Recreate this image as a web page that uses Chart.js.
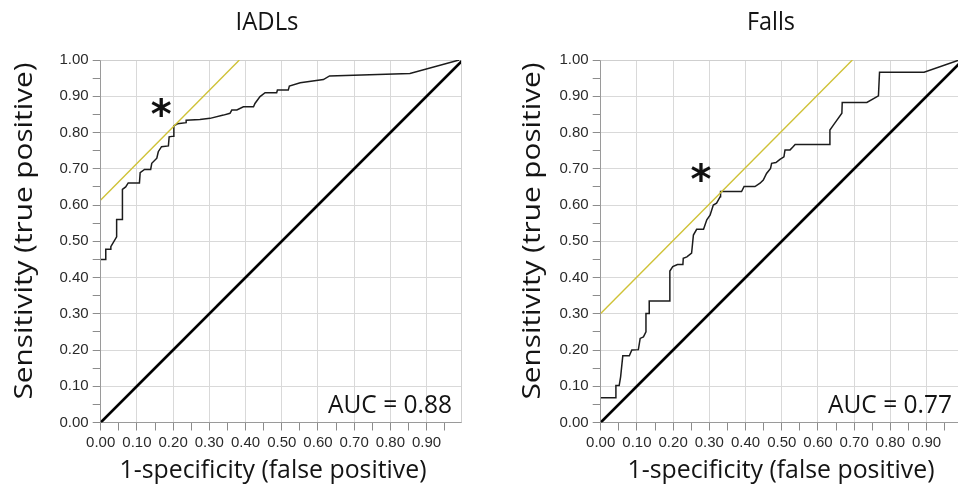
<!DOCTYPE html>
<html><head><meta charset="utf-8">
<script src="https://cdn.jsdelivr.net/npm/chart.js@4/dist/chart.umd.min.js"></script>
<style>
html,body{margin:0;padding:0;background:#fff;overflow:hidden;}
#wrap{position:relative;width:958px;height:489px;overflow:hidden;background:#fff;}
canvas{position:absolute;top:0;}
#c1{left:0;}
#c2{left:500px;}
</style></head><body>
<div id="wrap">
<canvas id="c1" width="480" height="489" style="width:480px;height:489px"></canvas>
<canvas id="c2" width="480" height="489" style="width:480px;height:489px"></canvas>
</div>
<script>
// ---- data ----
const tickLabels = ['0.00','0.10','0.20','0.30','0.40','0.50','0.60','0.70','0.80','0.90','1.00'];
const panelTitles = ['IADLs', 'Falls'];
const xTitle = '1-specificity (false positive)';
const yTitle = 'Sensitivity (true positive)';
const aucLabels = ['AUC = 0.88', 'AUC = 0.77'];

const iadlFpr = [0,0.014,0.014,0.028,0.028,0.044,0.044,0.060,0.060,0.069,0.076,0.107,0.109,0.121,0.138,0.141,0.155,0.159,0.168,0.187,0.189,0.201,0.202,0.212,0.236,0.236,0.274,0.302,0.339,0.357,0.362,0.376,0.394,0.422,0.426,0.440,0.454,0.486,0.488,0.518,0.521,0.551,0.615,0.632,0.854,0.990];
const iadlTpr = [0.450,0.450,0.478,0.478,0.485,0.512,0.560,0.560,0.643,0.650,0.661,0.661,0.689,0.698,0.698,0.715,0.729,0.747,0.761,0.763,0.788,0.790,0.818,0.824,0.827,0.834,0.836,0.839,0.848,0.853,0.862,0.862,0.871,0.871,0.880,0.899,0.910,0.910,0.917,0.917,0.928,0.937,0.946,0.956,0.963,1.000];

const fallsFpr = [0,0.042,0.042,0.051,0.055,0.061,0.079,0.086,0.104,0.109,0.118,0.125,0.125,0.134,0.134,0.191,0.191,0.199,0.212,0.227,0.228,0.238,0.251,0.256,0.265,0.284,0.293,0.302,0.311,0.320,0.330,0.331,0.389,0.396,0.426,0.440,0.449,0.458,0.469,0.472,0.484,0.495,0.506,0.509,0.523,0.530,0.537,0.632,0.633,0.643,0.666,0.667,0.735,0.767,0.770,0.893,0.990];
const fallsTpr = [0.068,0.068,0.102,0.102,0.126,0.184,0.184,0.200,0.201,0.232,0.236,0.250,0.301,0.301,0.335,0.335,0.418,0.430,0.436,0.436,0.453,0.457,0.467,0.517,0.533,0.533,0.559,0.572,0.600,0.605,0.623,0.637,0.637,0.651,0.651,0.660,0.669,0.687,0.701,0.715,0.717,0.726,0.733,0.752,0.752,0.759,0.767,0.767,0.807,0.821,0.853,0.883,0.883,0.901,0.966,0.966,1.000];

const diagX = [0, 1];
const diagY = [0, 1];
const iadlTangentX = [0, 0.383];
const iadlTangentY = [0.614, 1.0];
const fallsTangentX = [0, 0.695];
const fallsTangentY = [0.301, 1.0];
const iadlStar = [0.167, 0.871];
const fallsStar = [0.277, 0.692];

// ---- helpers ----
const pts = (xs, ys) => xs.map((x, i) => ({x: x, y: ys[i]}));
const isMajor = v => Math.round(v * 100) % 10 === 0;
const lbl = v => isMajor(v) ? tickLabels[Math.round(v * 10)] : '';

function fitText(ctx, text, font, x, y, align, targetW, rotate) {
  ctx.save();
  ctx.font = font;
  const w = ctx.measureText(text).width;
  const sx = targetW ? targetW / w : 1;
  ctx.translate(x, y);
  if (rotate) ctx.rotate(-Math.PI / 2);
  ctx.scale(sx, 1);
  ctx.textAlign = align;
  ctx.textBaseline = 'alphabetic';
  ctx.fillStyle = '#141414';
  ctx.fillText(text, 0, 0);
  ctx.restore();
}

function makeChart(id, cfg) {
  const deco = {
    id: 'deco' + id,
    beforeDatasetsDraw(chart) {
      const a = chart.chartArea, ctx = chart.ctx;
      ctx.save();
      ctx.strokeStyle = '#cfcfcf';
      ctx.lineWidth = 1;
      ctx.beginPath();
      ctx.moveTo(a.left, a.top + 0.5); ctx.lineTo(a.right + 0.5, a.top + 0.5); ctx.lineTo(a.right + 0.5, a.bottom);
      ctx.stroke();
      ctx.restore();
    },
    afterDraw(chart) {
      const ctx = chart.ctx, a = chart.chartArea;
      const xs = chart.scales.x, ys = chart.scales.y;
      fitText(ctx, cfg.title, '26px "Open Sans"', cfg.titleX, 30, 'center', cfg.titleW, false);
      fitText(ctx, xTitle, '26px "Open Sans"', cfg.xTitleX, 478, 'center', 307, false);
      fitText(ctx, yTitle, '26px "Open Sans"', cfg.yTitleX, 231, 'center', 337, true);
      fitText(ctx, cfg.auc, '25px "Open Sans"', a.right - 9, a.bottom - 9.5, 'right', 124, false);
      // asterisk
      ctx.save();
      ctx.font = 'bold 40px "DejaVu Sans"';
      ctx.textAlign = 'left';
      ctx.textBaseline = 'alphabetic';
      const m = ctx.measureText('*');
      const cx = xs.getPixelForValue(cfg.star[0]);
      const cy = ys.getPixelForValue(cfg.star[1]);
      const gx = cx - (m.actualBoundingBoxRight - m.actualBoundingBoxLeft) / 2 + m.actualBoundingBoxLeft;
      const gy = cy + (m.actualBoundingBoxAscent - m.actualBoundingBoxDescent) / 2;
      ctx.fillStyle = '#111';
      ctx.fillText('*', gx, gy);
      ctx.restore();
    }
  };
  const gridMajor = c => (c.tick && isMajor(c.tick.value)) ? '#d9d9d9' : 'rgba(0,0,0,0)';
  return new Chart(document.getElementById(id), {
    type: 'scatter',
    data: {
      datasets: [
        {data: pts(cfg.tanX, cfg.tanY), showLine: true, borderColor: '#cfc237', borderWidth: 1.4, pointRadius: 0},
        {data: pts(diagX, diagY), showLine: true, borderColor: '#000', borderWidth: 2.6, pointRadius: 0},
        {data: pts(cfg.fpr, cfg.tpr), showLine: true, borderColor: '#1c1c1c', borderWidth: 1.5, pointRadius: 0}
      ]
    },
    options: {
      responsive: false,
      animation: false,
      devicePixelRatio: 1,
      layout: {padding: {left: 0, top: 60, right: 19, bottom: 0}},
      plugins: {legend: {display: false}, tooltip: {enabled: false}},
      scales: {
        x: {
          type: 'linear', min: 0, max: 0.995,
          afterFit: s => { s.height = 489 - 422.5; },
          grid: {color: gridMajor, tickColor: '#8c8c8c', tickLength: 8, lineWidth: 1},
          border: {color: '#9a9a9a', width: 1},
          ticks: {stepSize: 0.05, includeBounds: false, autoSkip: false, maxRotation: 0, padding: 3,
                  color: '#2a2a2a', font: {family: '"Liberation Sans", Arial, sans-serif', size: 15},
                  callback: v => lbl(v)}
        },
        y: {
          type: 'linear', min: 0, max: 1,
          afterFit: s => { s.width = 100.7; },
          grid: {color: gridMajor, tickColor: '#8c8c8c', tickLength: 8, lineWidth: 1},
          border: {color: '#9a9a9a', width: 1},
          ticks: {stepSize: 0.05, autoSkip: false, padding: 4,
                  color: '#2a2a2a', font: {family: '"Liberation Sans", Arial, sans-serif', size: 15},
                  callback: v => lbl(v)}
        }
      }
    },
    plugins: [deco]
  });
}

makeChart('c1', {title: panelTitles[0], titleX: 267, titleW: 63, xTitleX: 273, yTitleX: 31.7,
  auc: aucLabels[0], star: iadlStar, fpr: iadlFpr, tpr: iadlTpr, tanX: iadlTangentX, tanY: iadlTangentY});
makeChart('c2', {title: panelTitles[1], titleX: 271, titleW: 48, xTitleX: 281, yTitleX: 40,
  auc: aucLabels[1], star: fallsStar, fpr: fallsFpr, tpr: fallsTpr, tanX: fallsTangentX, tanY: fallsTangentY});
</script>
</body></html>
